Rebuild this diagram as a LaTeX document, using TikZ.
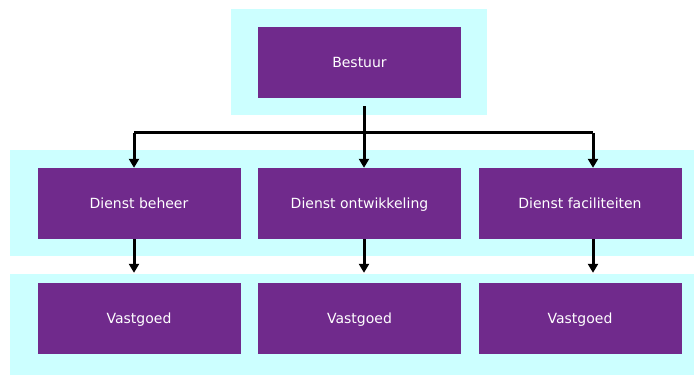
\documentclass[tikz,border=0pt]{standalone}
\usepackage{fontspec}
\setmainfont{DejaVu Sans}
\usetikzlibrary{arrows.meta}

\definecolor{paars}{RGB}{112,42,140}
\definecolor{lichtblauw}{RGB}{204,255,255}

\tikzset{
    blok/.style={fill=paars, text=white, minimum width=203pt, minimum height=71pt,
                 inner sep=0pt, text height=12pt, text depth=3pt,
                 font=\fontsize{14}{16}\selectfont},
    lijn/.style={line width=3pt, line join=miter},
    pijl/.style={lijn, -{Triangle[width=10pt,length=9pt]}}
}

\begin{document}
\begin{tikzpicture}[x=1pt,y=-1pt]
                \useasboundingbox (0,0) rectangle (694,375);
                % achtergrondbanden
                \fill[lichtblauw] (231,9) rectangle (487,115);
                \fill[lichtblauw] (10,150) rectangle (694,256);
                \fill[lichtblauw] (10,274) rectangle (694,375);

                \node[blok] (bestuur) at (359.5,62.5) {Bestuur};
                \foreach \n/\x/\naam in {1/139/beheer,2/359.5/ontwikkeling,3/580/faciliteiten}{
                    \node[blok] (d\n) at (\x,203.5) {Dienst \naam};
                    \node[blok] (v\n) at (\x,318.5) {Vastgoed};
                }

                % verbindingen
                \draw[lijn] ([xshift=-5pt,yshift=35pt]d1.north) -- ([xshift=13pt,yshift=35pt]d3.north);
                \draw[pijl] ([shift={(4.5,8)}]bestuur.south) -- ([xshift=4.5pt]d2.north);
                \draw[pijl] ([xshift=-5pt,yshift=35pt]d1.north) -- ([xshift=-5pt]d1.north);
                \draw[pijl] ([xshift=13pt,yshift=35pt]d3.north) -- ([xshift=13pt]d3.north);
                \foreach \n/\dx in {1/-5,2/4.5,3/13}{
                    \draw[pijl] ([xshift=\dx pt]d\n.south) -- ([xshift=\dx pt,yshift=10pt]v\n.north);
                }
            \end{tikzpicture}
\end{document}
